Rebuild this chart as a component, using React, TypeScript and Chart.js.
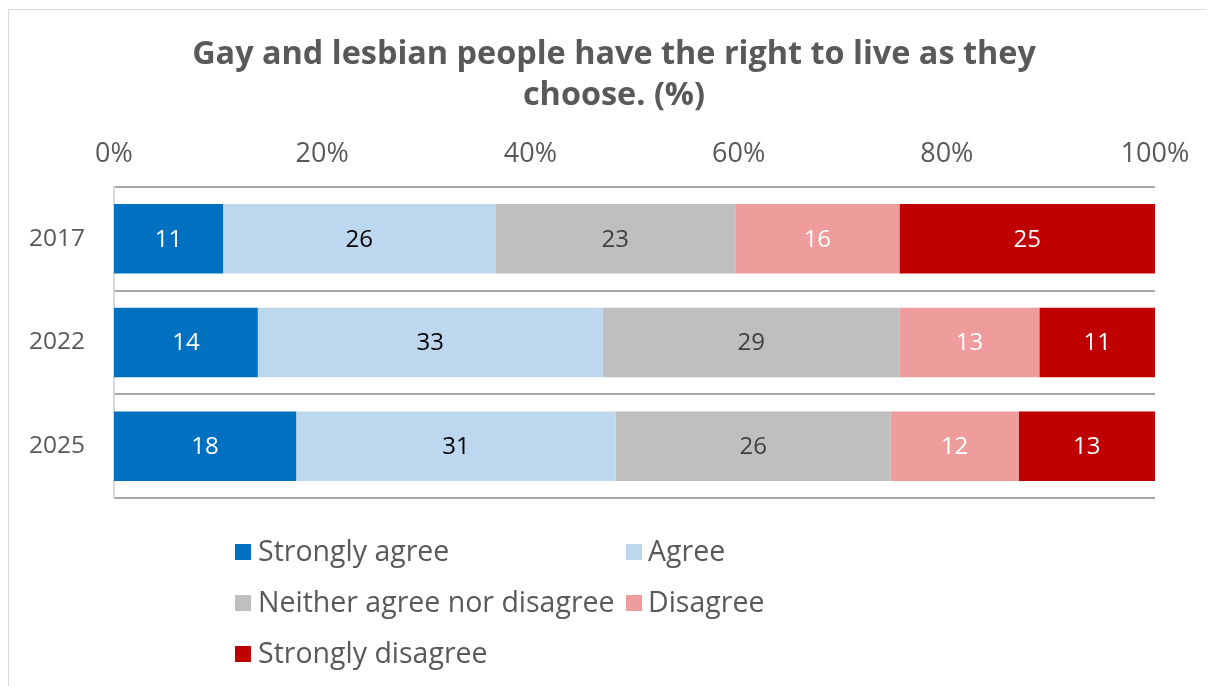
import React, { useEffect, useRef } from "react";
import { Chart, registerables } from "chart.js";

Chart.register(...registerables);

const TITLE_LINES = ["Gay and lesbian people have the right to live as they", "choose. (%)"];
const YEARS = ["2017", "2022", "2025"];
const SERIES_NAMES = ["Strongly agree", "Agree", "Neither agree nor disagree", "Disagree", "Strongly disagree"];
const SERIES_COLORS = ["#0070C0", "#BDD7EE", "#BFBFBF", "#EE9C9C", "#C00000"];
const LABEL_COLORS = ["#FFFFFF", "#000000", "#404040", "#FFFFFF", "#FFFFFF"];

// values per series, in order of YEARS
const STRONGLY_AGREE = [10.5, 13.8, 17.5];
const AGREE = [26.2, 33.1, 30.7];
const NEITHER = [23.1, 28.5, 26.4];
const DISAGREE = [15.8, 13.4, 12.3];
const STRONGLY_DISAGREE = [24.6, 11.1, 13.1];

const X_TICKS = [0, 20, 40, 60, 80, 100];

const TEXT = "#595959";
const FONT = "'Open Sans', 'Noto Sans', sans-serif";

const barLabels = {
  id: "barLabels",
  afterDatasetsDraw(chart: any) {
    const ctx = chart.ctx;
    ctx.save();
    ctx.font = `24px ${FONT}`;
    ctx.textAlign = "center";
    ctx.textBaseline = "middle";
    chart.data.datasets.forEach((ds: any, i: number) => {
      const meta = chart.getDatasetMeta(i);
      meta.data.forEach((bar: any, j: number) => {
        const raw = ds.rawValues[j];
        const cx = (bar.x + bar.base) / 2;
        ctx.fillStyle = LABEL_COLORS[i];
        ctx.fillText(String(Math.round(raw)), cx, bar.y + 1);
      });
    });
    ctx.restore();
  },
};

export default function App() {
  const ref = useRef<HTMLCanvasElement | null>(null);

  useEffect(() => {
    if (!ref.current) return;
    const all = [STRONGLY_AGREE, AGREE, NEITHER, DISAGREE, STRONGLY_DISAGREE];
    const totals = YEARS.map((_, j) => all.reduce((s, a) => s + a[j], 0));
    const chart = new Chart(ref.current, {
      type: "bar",
      data: {
        labels: YEARS,
        datasets: all.map((vals, i) => ({
          label: SERIES_NAMES[i],
          data: vals.map((v, j) => (v / totals[j]) * 100),
          rawValues: vals,
          backgroundColor: SERIES_COLORS[i],
          borderWidth: 0,
          barPercentage: 0.67,
          categoryPercentage: 1,
        })) as any,
      },
      options: {
        indexAxis: "y",
        animation: false,
        responsive: false,
        maintainAspectRatio: false,
        layout: { padding: { left: 0, right: 59, top: 0, bottom: 32 } },
        plugins: {
          legend: { display: false },
          tooltip: { enabled: false },
          title: { display: false },
        },
        scales: {
          x: {
            position: "top",
            stacked: true,
            min: 0,
            max: 100,
            afterBuildTicks: (scale: any) => {
              scale.ticks = X_TICKS.map((v) => ({ value: v }));
            },
            afterFit: (scale: any) => {
              scale.height = 177;
              scale.paddingLeft = 0;
              scale.paddingRight = 0;
            },
            ticks: {
              color: TEXT,
              font: { family: FONT, size: 27 },
              padding: 8,
              maxRotation: 0,
              callback: (v: any) => `${v}%`,
            },
            grid: { display: false },
            border: { display: false },
          },
          y: {
            stacked: true,
            afterFit: (scale: any) => {
              scale.width = 105;
              scale.paddingTop = 0;
              scale.paddingBottom = 0;
            },
            ticks: {
              color: TEXT,
              font: { family: FONT, size: 24.5 },
              padding: 29,
            },
            grid: {
              offset: true,
              color: "#A6A6A6",
              lineWidth: 2,
              drawTicks: false,
            },
            border: { display: true, color: "#D9D9D9", width: 2 },
          },
        },
      } as any,
      plugins: [barLabels],
    });
    return () => chart.destroy();
  }, []);

  return (
    <div style={{ paddingTop: 1 }}>
      <div
        style={{
          position: "relative",
          width: 1206,
          height: 677,
          borderTop: "1px solid #D9D9D9",
          borderLeft: "1px solid #D9D9D9",
          boxSizing: "border-box",
          overflow: "hidden",
        }}
      >
        <canvas ref={ref} width={1205} height={520} style={{ position: "absolute", left: 0, top: 0 }} />
        <div
          style={{
            position: "absolute",
            left: 0,
            top: 21,
            width: 1210,
            textAlign: "center",
            fontFamily: FONT,
            fontWeight: 700,
            fontSize: 32.4,
            lineHeight: "41px",
            color: TEXT,
            whiteSpace: "nowrap",
          }}
        >
          {TITLE_LINES.map((l) => (
            <div key={l}>{l}</div>
          ))}
        </div>
        <div
          style={{
            position: "absolute",
            left: 226,
            top: 516,
            display: "grid",
            gridTemplateColumns: "391px auto",
            gridAutoRows: "51px",
            fontFamily: FONT,
            fontSize: 28.5,
            color: TEXT,
          }}
        >
          {SERIES_NAMES.map((name, i) => (
            <div key={name} style={{ display: "flex", alignItems: "center", whiteSpace: "nowrap" }}>
              <span
                style={{
                  display: "inline-block",
                  width: 16,
                  height: 16,
                  background: SERIES_COLORS[i],
                  marginRight: i % 2 === 1 ? 6 : 7,
                  flex: "none",
                }}
              />
              <span style={{ lineHeight: "51px", position: "relative", top: -1 }}>{name}</span>
            </div>
          ))}
        </div>
      </div>
    </div>
  );
}
